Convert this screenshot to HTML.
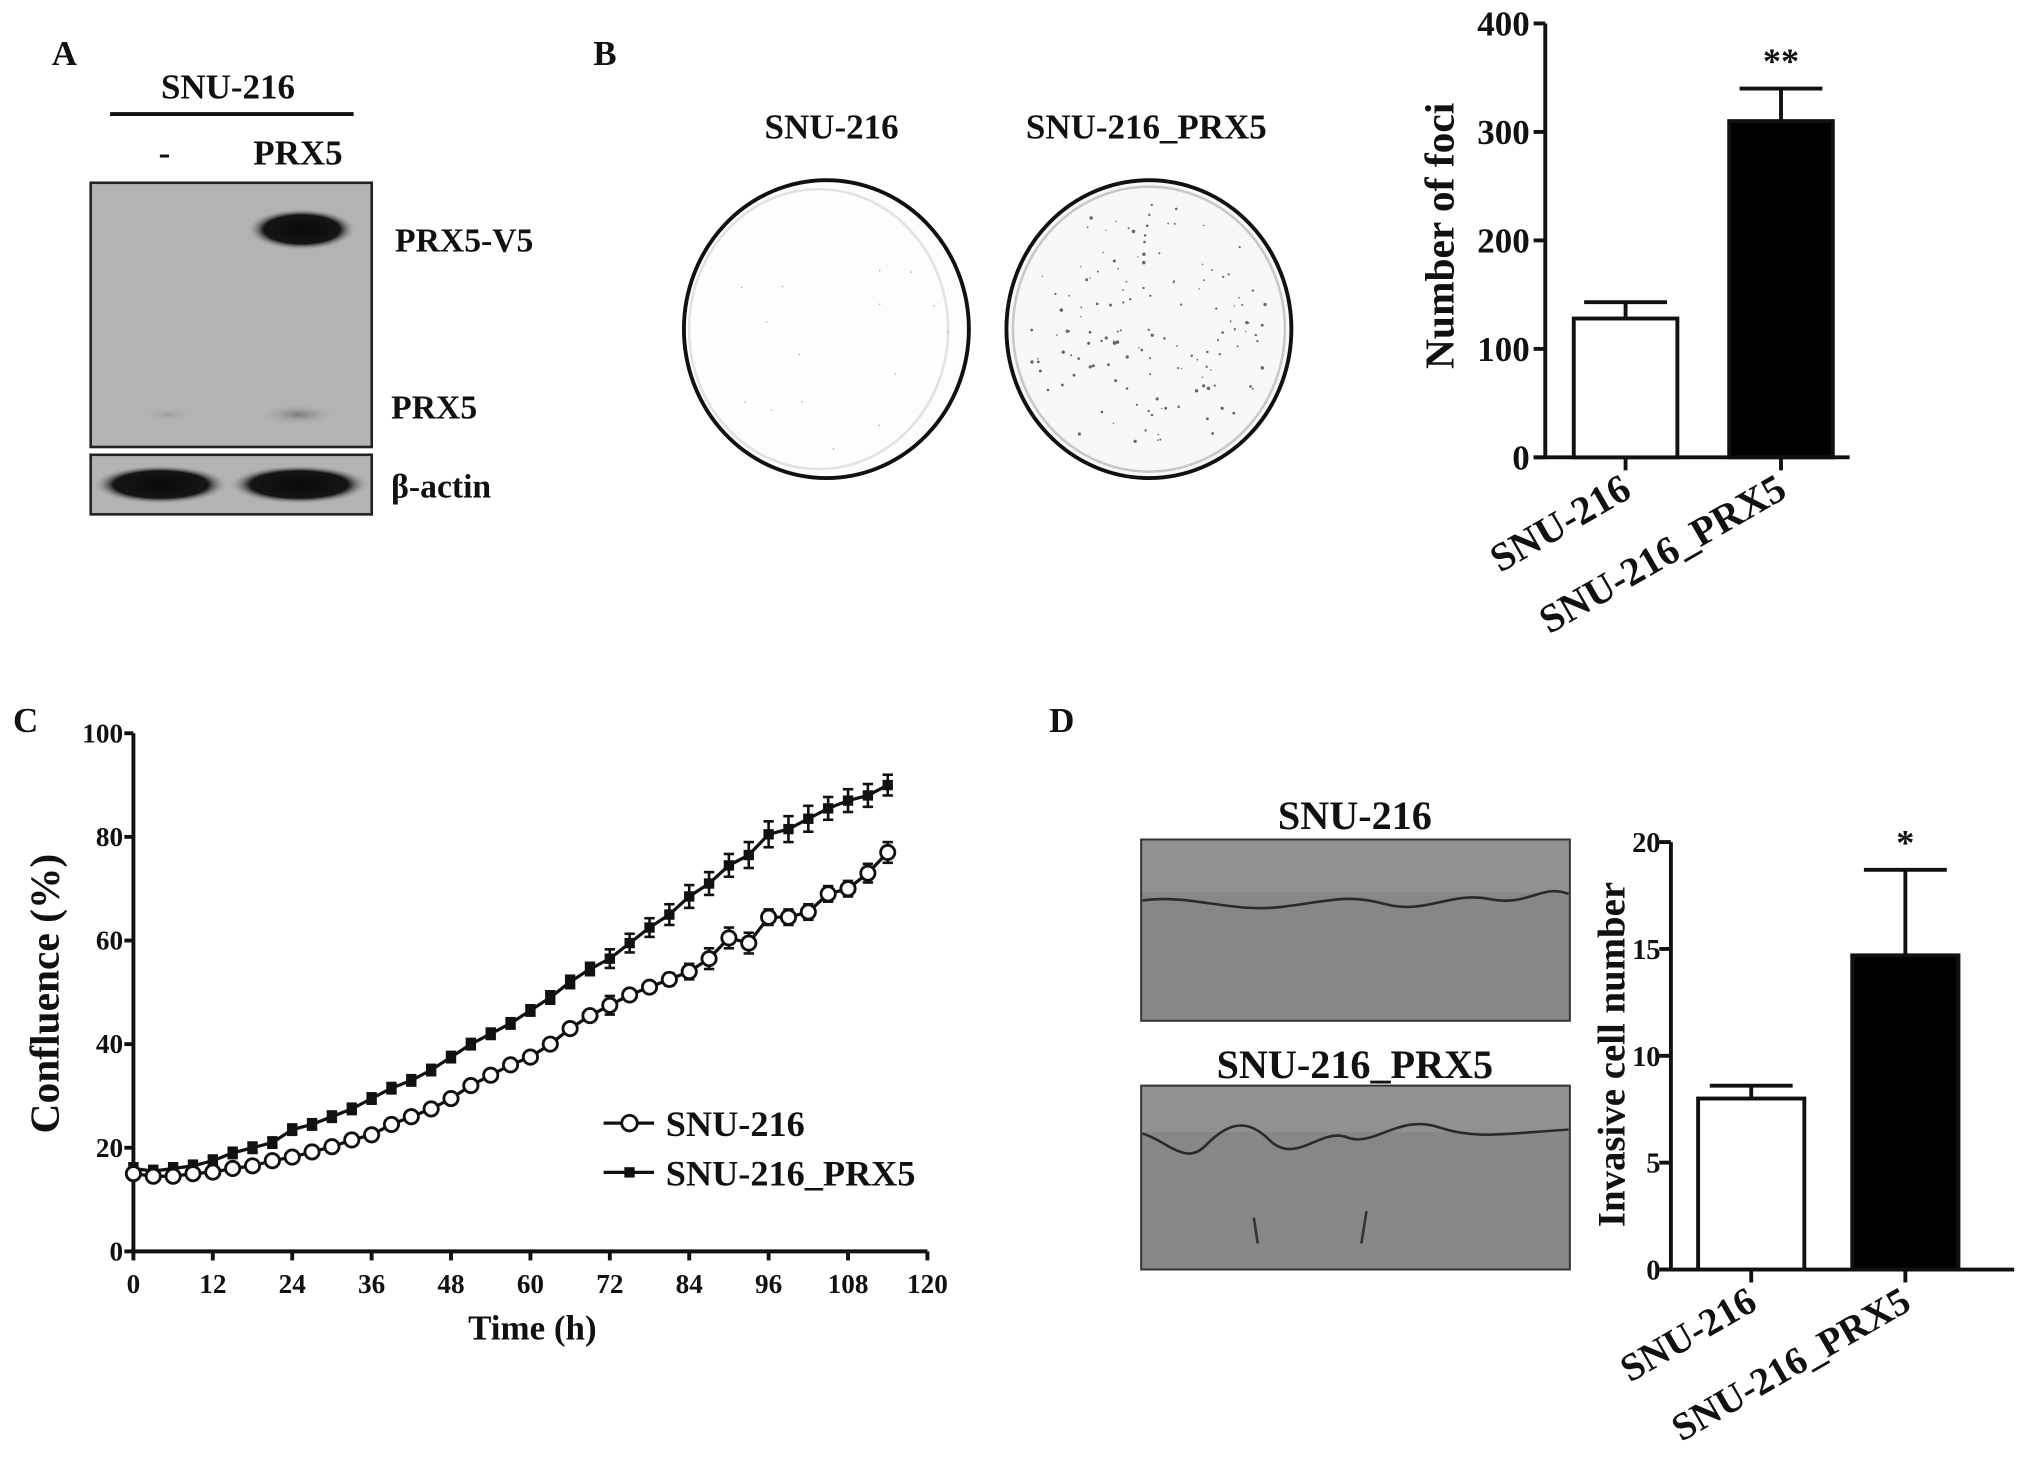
<!DOCTYPE html>
<html><head><meta charset="utf-8"><style>
html,body{margin:0;padding:0;background:#fff;}
svg{display:block;}
text{font-family:"Liberation Serif",serif;font-weight:bold;fill:#111;}
</style></head><body>
<svg id="fig" width="2031" height="1473" viewBox="0 0 1568 1137" xmlns="http://www.w3.org/2000/svg">
<defs>
<radialGradient id="bandG"><stop offset="0" stop-color="#0a0a0a"/><stop offset="0.7" stop-color="#151515"/><stop offset="1" stop-color="#b0b0b0" stop-opacity="0"/></radialGradient>
<radialGradient id="faintG"><stop offset="0" stop-color="#7a7a7a"/><stop offset="1" stop-color="#b0b0b0" stop-opacity="0"/></radialGradient>
</defs>
<!-- Panel A -->
<g>
<text x="40" y="50" font-size="27">A</text>
<text x="176" y="76" font-size="27" text-anchor="middle">SNU-216</text>
<line x1="85" y1="88" x2="273" y2="88" stroke="#111" stroke-width="3"/>
<text x="127" y="127" font-size="27" text-anchor="middle">-</text>
<text x="230" y="127" font-size="27" text-anchor="middle">PRX5</text>
<rect x="70" y="141" width="217" height="204" fill="#b3b3b3" stroke="#222" stroke-width="2"/>
<ellipse cx="233" cy="177" rx="42" ry="16" fill="url(#bandG)"/>
<ellipse cx="230" cy="320" rx="30" ry="8" fill="url(#faintG)"/>
<ellipse cx="130" cy="320" rx="20" ry="6" fill="url(#faintG)" opacity="0.4"/>
<rect x="70" y="351" width="217" height="46" fill="#b3b3b3" stroke="#222" stroke-width="2"/>
<ellipse cx="124" cy="374" rx="52" ry="15" fill="url(#bandG)"/>
<ellipse cx="231" cy="374" rx="54" ry="15" fill="url(#bandG)"/>
<text x="305" y="194" font-size="26">PRX5-V5</text>
<text x="302" y="323" font-size="26">PRX5</text>
<text x="302" y="384" font-size="26" font-family="Liberation Serif,DejaVu Serif,serif">β-actin</text>
</g>
<!-- Panel B plates -->
<g>
<text x="458" y="50" font-size="27">B</text>
<text x="642" y="107" font-size="27" text-anchor="middle">SNU-216</text>
<text x="885" y="107" font-size="27" text-anchor="middle">SNU-216_PRX5</text>
<ellipse cx="638" cy="254" rx="110" ry="115" fill="#fdfdfd" stroke="#111" stroke-width="3"/>
<ellipse cx="632" cy="254" rx="100" ry="108" fill="none" stroke="#e2e2e2" stroke-width="2"/>
<ellipse cx="887" cy="254" rx="110" ry="115" fill="#f8f8f8" stroke="#111" stroke-width="3"/>
<ellipse cx="887" cy="254" rx="105" ry="110" fill="none" stroke="#c8c8c8" stroke-width="2"/>
<g id="foci" fill="#444"></g>
</g>
<!-- Panel B bar chart -->
<g id="barB"></g>
<!-- Panel C -->
<g id="lineC"></g>
<!-- Panel D -->
<g>
<text x="810" y="565" font-size="27">D</text>
<text x="1046" y="640" font-size="31" text-anchor="middle">SNU-216</text>
<rect x="881" y="648" width="331" height="140" fill="#878787" stroke="#333" stroke-width="1.5"/>
<rect x="882" y="649" width="329" height="40" fill="#919191"/>
<path d="M882 695 C920 690 950 705 990 700 S1040 690 1070 698 S1120 688 1150 694 S1190 682 1211 690" fill="none" stroke="#2a2a2a" stroke-width="2"/>
<text x="1046" y="832" font-size="31" text-anchor="middle">SNU-216_PRX5</text>
<rect x="881" y="838" width="331" height="142" fill="#878787" stroke="#333" stroke-width="1.5"/>
<rect x="882" y="839" width="329" height="35" fill="#919191"/>
<path d="M882 875 C900 880 915 900 930 885 S960 860 980 880 S1020 870 1040 878 S1080 860 1110 870 S1160 875 1211 872" fill="none" stroke="#2a2a2a" stroke-width="2"/>
<path d="M968 940 l3 20 M1055 935 l-4 25" stroke="#333" stroke-width="2"/>
</g>
<g id="barD"></g>
</svg>
<script>
const NS="http://www.w3.org/2000/svg";
function mk(parent,tag,attrs,txt){const e=document.createElementNS(NS,tag);for(const k in attrs)e.setAttribute(k,attrs[k]);if(txt!==undefined)e.textContent=txt;parent.appendChild(e);return e;}

// ---- Panel B bar data ----
const fociCategories=["SNU-216","SNU-216_PRX5"];
const fociValues=[128,310];
const fociErrors=[15,30];
const fociTicks=[0,100,200,300,400];
const fociSig=["","**"];
// ---- Panel C line data ----
const timeHours=[0,3,6,9,12,15,18,21,24,27,30,33,36,39,42,45,48,51,54,57,60,63,66,69,72,75,78,81,84,87,90,93,96,99,102,105,108,111,114];
const snu216Conf=[15,14.5,14.5,15,15.3,16,16.5,17.5,18.2,19.2,20.2,21.5,22.5,24.5,26,27.5,29.5,32,34,36,37.5,40,43,45.5,47.5,49.5,51,52.5,54,56.5,60.5,59.5,64.5,64.5,65.5,69,70,73,77];
const snu216Err=[1,1,1,1,1,1,1,1,1,1,1,1,1,1,1,1,1,1,1,1,1,1,1,1,1.8,1,1,1.2,1.5,2,2,2,1.5,1.5,1.5,1.5,1.5,1.8,2];
const prx5Conf=[16,15.5,16,16.5,17.5,19,20,21,23.5,24.5,26,27.5,29.5,31.5,33,35,37.5,40,42,44,46.5,49,52,54.5,56.5,59.5,62.5,65,68.5,71,74.5,76.5,80.5,81.5,83.5,85.5,87,88,90];
const prx5Err=[1,1,1,1,1,1,1,1,1,1,1,1,1,1,1,1,1,1,1,1,1,1.2,1.2,1.2,1.8,1.8,1.8,2,2.2,2.2,2.2,2.5,2.5,2.5,2.5,2.2,2.2,2.2,2];
const confXTicks=[0,12,24,36,48,60,72,84,96,108,120];
const confYTicks=[0,20,40,60,80,100];
// ---- Panel D bar data ----
const invCategories=["SNU-216","SNU-216_PRX5"];
const invValues=[8,14.7];
const invErrors=[0.6,4];
const invTicks=[0,5,10,15,20];
const invSig=["","*"];

function barChart(g,o,cats,vals,errs,ticks,sig,ylabel,prefix){
  const y=v=>o.y0-(v-ticks[0])/(ticks[ticks.length-1]-ticks[0])*(o.y0-o.y1);
  const ax=mk(g,'g',{});
  
  
  mk(ax,'line',{x1:o.ax,y1:o.y1,x2:o.ax,y2:o.y0,stroke:'#111','stroke-width':3});
  ticks.forEach(t=>{
    mk(ax,'line',{x1:o.ax-9,y1:y(t),x2:o.ax,y2:y(t),stroke:'#111','stroke-width':3});
    const tl=mk(ax,'text',{x:o.ax-o.tg,y:y(t)+o.tf*0.35,'font-size':o.tf,'text-anchor':'end'},t);
    
    
  });
  const xa=mk(g,'line',{x1:o.ax-9,y1:o.y0,x2:o.xend,y2:o.y0,stroke:'#111','stroke-width':3});
  
  
  const yl=mk(g,'text',{x:o.ylx,y:o.yly,'font-size':o.yf,'text-anchor':'middle',transform:`rotate(-90 ${o.ylx} ${o.yly})`},ylabel);
  
  
  cats.forEach((c,i)=>{
    const cx=o.cx[i];
    const top=y(vals[i]);
    const etop=y(vals[i]+errs[i]);
    const eb=mk(g,'line',{x1:cx,y1:top,x2:cx,y2:etop,stroke:'#111','stroke-width':3});
    
    
    mk(g,'line',{x1:cx-o.cap,y1:etop,x2:cx+o.cap,y2:etop,stroke:'#111','stroke-width':3});
    const b=mk(g,'rect',{x:cx-o.bw/2,y:top,width:o.bw,height:o.y0-top,fill:i?'#000':'#fff',stroke:'#111','stroke-width':3});
    
    
    mk(g,'line',{x1:cx,y1:o.y0,x2:cx,y2:o.y0+10,stroke:'#111','stroke-width':3});
    const tx=cx+6, ty=o.y0+30;
    const lab=mk(g,'text',{x:tx,y:ty,'font-size':o.xf,'text-anchor':'end',transform:`rotate(-30 ${tx} ${ty})`},c);
    
    
    if(sig[i]){
      const s=mk(g,'text',{x:cx,y:etop-12,'font-size':28,'text-anchor':'middle',fill:'#333'},sig[i]);
      
      
    }
  });
}
barChart(document.getElementById('barB'),{ax:1193,y0:353,y1:18,xend:1428,cx:[1255,1375],bw:80,cap:32,ylx:1122,yly:182,tf:27,tg:12,yf:32,xf:31},fociCategories,fociValues,fociErrors,fociTicks,fociSig,'Number of foci','foci');
barChart(document.getElementById('barD'),{ax:1290,y0:980,y1:650,xend:1555,cx:[1352,1471],bw:82,cap:32,ylx:1254,yly:814,tf:22,tg:8,yf:30,xf:30},invCategories,invValues,invErrors,invTicks,invSig,'Invasive cell number','invasion');

// Panel C
(function(){
  const g=document.getElementById('lineC');
  const X0=103,X1=716,Y0=966,Y1=566;
  const x=t=>X0+t/120*(X1-X0);
  const y=v=>Y0-v/100*(Y0-Y1);
  const lab=mk(g,'text',{x:10,y:565,'font-size':27},'C');
  
  
  mk(g,'line',{x1:X0,y1:Y1,x2:X0,y2:Y0,stroke:'#111','stroke-width':3});
  mk(g,'line',{x1:X0,y1:Y0,x2:X1,y2:Y0,stroke:'#111','stroke-width':3});
  confYTicks.forEach(t=>{
    mk(g,'line',{x1:X0-7,y1:y(t),x2:X0,y2:y(t),stroke:'#111','stroke-width':3});
    const e=mk(g,'text',{x:X0-8,y:y(t)+7,'font-size':21,'text-anchor':'end'},t);
    
    
  });
  confXTicks.forEach(t=>{
    mk(g,'line',{x1:x(t),y1:Y0,x2:x(t),y2:Y0+7,stroke:'#111','stroke-width':3});
    const e=mk(g,'text',{x:x(t),y:Y0+32,'font-size':21,'text-anchor':'middle'},t);
    
    
  });
  const xt=mk(g,'text',{x:411,y:1034,'font-size':27,'text-anchor':'middle'},'Time (h)');
  
  
  const yt=mk(g,'text',{x:45,y:767,'font-size':32,'text-anchor':'middle',transform:'rotate(-90 45 767)'},'Confluence (%)');
  
  
  function series(vals,errs,filled,name){
    const sg=mk(g,'g',{});
    
    
    mk(sg,'polyline',{points:timeHours.map((t,i)=>x(t)+','+y(vals[i])).join(' '),fill:'none',stroke:'#111','stroke-width':2.5});
    timeHours.forEach((t,i)=>{
      const cx=x(t),cy=y(vals[i]),e=errs[i];
      mk(sg,'line',{x1:cx,y1:y(vals[i]+e),x2:cx,y2:y(vals[i]-e),stroke:'#111','stroke-width':2});
      mk(sg,'line',{x1:cx-4,y1:y(vals[i]+e),x2:cx+4,y2:y(vals[i]+e),stroke:'#111','stroke-width':2});
      mk(sg,'line',{x1:cx-4,y1:y(vals[i]-e),x2:cx+4,y2:y(vals[i]-e),stroke:'#111','stroke-width':2});
      let m;
      if(filled) m=mk(sg,'rect',{x:cx-4,y:cy-4,width:8,height:8,fill:'#111'});
      else m=mk(sg,'circle',{cx:cx,cy:cy,r:5.5,fill:'#fff',stroke:'#111','stroke-width':2.2});
      
      
    });
  }
  series(prx5Conf,prx5Err,true,'series-snu216-prx5');
  series(snu216Conf,snu216Err,false,'series-snu216');
  const lg=mk(g,'g',{});
  
  
  mk(lg,'line',{x1:466,y1:867,x2:505,y2:867,stroke:'#111','stroke-width':2.5});
  mk(lg,'circle',{cx:486,cy:867,r:6,fill:'#fff',stroke:'#111','stroke-width':2.2});
  const l1=mk(lg,'text',{x:514,y:877,'font-size':28},'SNU-216');
  
  
  mk(lg,'line',{x1:466,y1:905,x2:505,y2:905,stroke:'#111','stroke-width':2.5});
  mk(lg,'rect',{x:482,y:901,width:8,height:8,fill:'#111'});
  const l2=mk(lg,'text',{x:514,y:915,'font-size':28},'SNU-216_PRX5');
  
  
})();

// foci speckles (decorative, deterministic)
(function(){
  const f=document.getElementById('foci');
  let s=7;const r=()=>{s=(s*9301+49297)%233280;return s/233280;};
  for(let i=0;i<140;i++){const a=r()*6.283,d=Math.sqrt(r())*95;mk(f,'circle',{cx:887+Math.cos(a)*d,cy:254+Math.sin(a)*d*1.05,r:0.5+r()*0.9,fill:'#666'});}
  for(let i=0;i<15;i++){const a=r()*6.283,d=Math.sqrt(r())*95;mk(f,'circle',{cx:638+Math.cos(a)*d,cy:254+Math.sin(a)*d,r:0.6,fill:'#aaa'});}
})();
</script>
</body></html>
